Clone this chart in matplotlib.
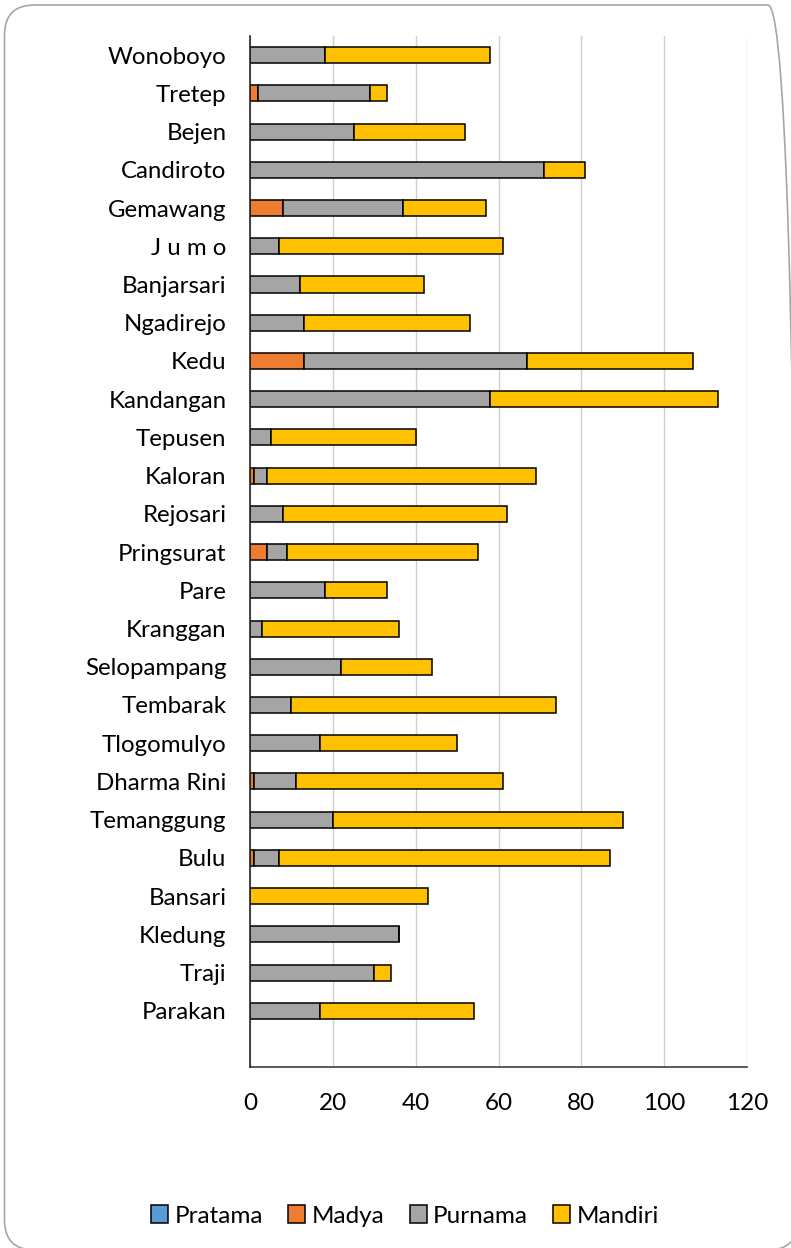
import matplotlib
matplotlib.use("Agg")
import matplotlib.pyplot as plt
import numpy as np
from matplotlib.patches import FancyBboxPatch, Patch

plt.rcParams['font.family'] = ['Lato', 'DejaVu Sans']

# Categories listed from bottom to top
categories = ["Parakan", "Traji", "Kledung", "Bansari", "Bulu", "Temanggung",
              "Dharma Rini", "Tlogomulyo", "Tembarak", "Selopampang", "Kranggan",
              "Pare", "Pringsurat", "Rejosari", "Kaloran", "Tepusen", "Kandangan",
              "Kedu", "Ngadirejo", "Banjarsari", "J u m o", "Gemawang",
              "Candiroto", "Bejen", "Tretep", "Wonoboyo"]
pratama = [0, 0, 0, 0, 0, 0, 0, 0, 0, 0, 0, 0, 0, 0, 0, 0, 0, 0, 0, 0, 0, 0, 0, 0, 0, 0]
madya   = [0, 0, 0, 0, 1, 0, 1, 0, 0, 0, 0, 0, 4, 0, 1, 0, 0, 13, 0, 0, 0, 8, 0, 0, 2, 0]
purnama = [17, 30, 36, 0, 6, 20, 10, 17, 10, 22, 3, 18, 5, 8, 3, 5, 58, 54, 13, 12, 7, 29, 71, 25, 27, 18]
mandiri = [37, 4, 0, 43, 80, 70, 50, 33, 64, 22, 33, 15, 46, 54, 65, 35, 55, 40, 40, 30, 54, 20, 10, 27, 4, 40]

series_names = ["Pratama", "Madya", "Purnama", "Mandiri"]
series_values = [pratama, madya, purnama, mandiri]
colors = ["#5B9BD5", "#ED7D31", "#A5A5A5", "#FFC000"]
x_ticks = [0, 20, 40, 60, 80, 100, 120]

W, H = 791, 1248
fig = plt.figure(figsize=(W / 100, H / 100), dpi=100)

# rounded chart-area border (in inches, origin bottom-left)
border = FancyBboxPatch((4.5 / 100, -2 / 100), (798 - 4.5) / 100, (1243 + 2) / 100,
                        boxstyle="round,pad=0,rounding_size=0.3",
                        transform=fig.dpi_scale_trans, fill=False,
                        edgecolor="#a6a6a6", linewidth=1.2)
fig.patches.append(border)

ax = fig.add_axes([250 / W, (H - 1067) / H, 497 / W, (1067 - 36) / H])

y = np.arange(len(categories))
left = np.zeros(len(categories))
for name, vals, col in zip(series_names, series_values, colors):
    vals = np.array(vals, dtype=float)
    ax.barh(y, vals, left=left, height=0.42, color=col, edgecolor="black",
            linewidth=1.1, label=name, zorder=3)
    left += vals

ax.set_xlim(0, 120)
ax.set_ylim(-1.47, len(categories) - 0.5)
ax.set_xticks(x_ticks)
ax.set_xticklabels([str(t) for t in x_ticks], fontsize=17.5, color="#000000")
ax.set_yticks(y)
ax.set_yticklabels(categories, fontsize=17.3, color="#000000")
ax.tick_params(axis="both", length=0)
ax.tick_params(axis="y", pad=17)
ax.tick_params(axis="x", pad=19)

ax.grid(axis="x", color="#d0d0d0", linewidth=1.0, zorder=0)
ax.grid(axis="y", visible=False)
for s in ["top", "right"]:
    ax.spines[s].set_visible(False)
ax.spines["left"].set_color("#262626")
ax.spines["left"].set_linewidth(1.2)
ax.spines["left"].set_zorder(4)
ax.spines["bottom"].set_color("#404040")
ax.spines["bottom"].set_linewidth(1.2)

handles = [Patch(facecolor=c, edgecolor="black", linewidth=1.1) for c in colors]
fig.legend(handles, series_names, loc="center", bbox_to_anchor=(405 / W, 1 - 1216 / H),
           ncol=4, frameon=False, fontsize=17.5, handlelength=0.7, handleheight=0.7,
           handletextpad=0.25, columnspacing=1.05)

fig.savefig("out.png", dpi=100)
